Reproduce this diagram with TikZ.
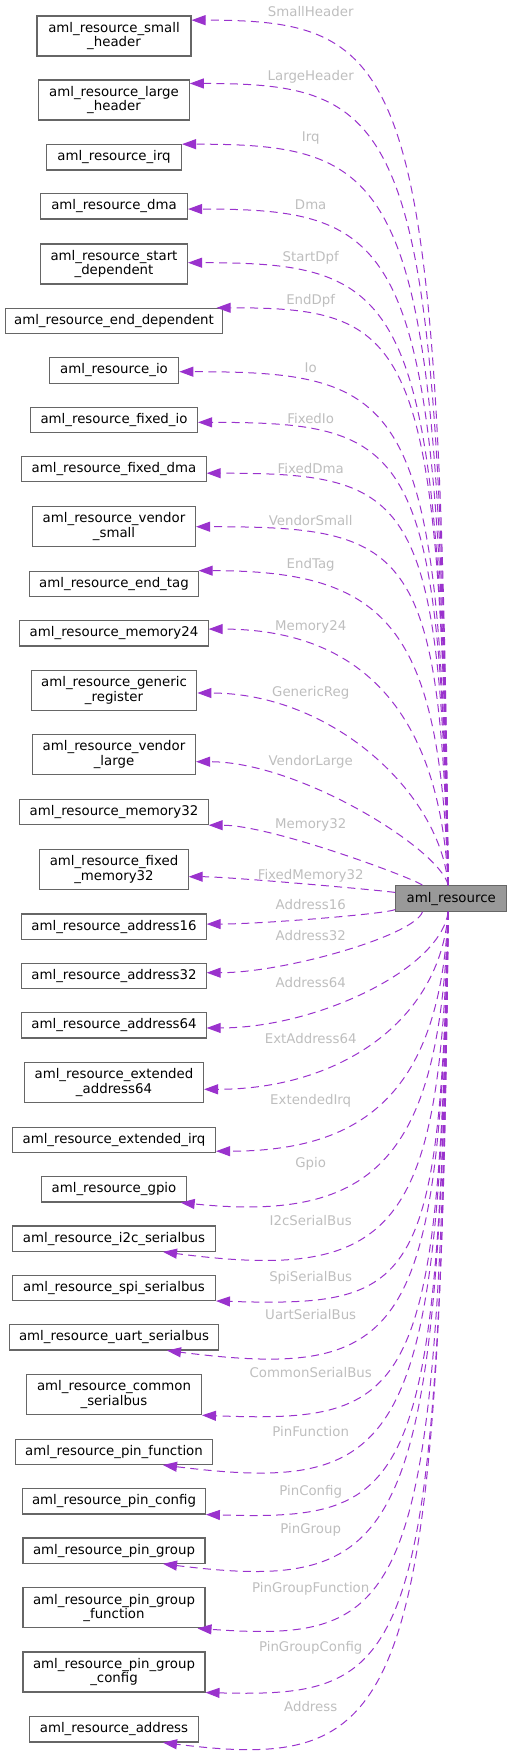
\documentclass[tikz,border=0pt]{standalone}
\usepackage{fontspec}
\setmainfont{DejaVu Sans}
\usetikzlibrary{arrows.meta,calc}
\definecolor{depcol}{HTML}{9A32CD}
\definecolor{labcol}{HTML}{BEBEBE}
\definecolor{bordcol}{HTML}{666666}
\definecolor{maincol}{HTML}{999999}
\tikzset{
  cls/.style={draw=bordcol, line width=0.8pt, fill=white, inner sep=0pt, align=center, font=\fontsize{10}{11}\selectfont},
  mainnode/.style={cls, fill=maincol},
  deplab/.style={text=labcol, font=\fontsize{10}{11}\selectfont, inner sep=0pt, anchor=base},
  dep/.style={draw=depcol, line width=0.75pt, dash pattern=on 6pt off 4pt, -{Triangle[length=10.5pt,width=7.5pt]}},
}
\newcommand\cls[5]{\node[cls, minimum width={#3*0.75pt}, minimum height={#4*0.75pt}] (#1) at (114,#2) {#5};}
\newcommand\dep[5]{\draw[dep] let \p1=(#1), \p2=(#2) in (\p1) .. controls ({\x1-6pt},{\y1+#3*(\y2-\y1)}) and ({\x2+#4*(\x1-\x2)},{\y2-#5*0.75pt}) .. (\p2);}
\begin{document}
\begin{tikzpicture}[x=0.75pt,y=-0.75pt]
\useasboundingbox (0,0) rectangle (512,1760);
% class nodes
\cls{n1}{36}{154}{40}{aml\_resource\_small\\\_header}
\cls{n2}{100}{150.6}{40}{aml\_resource\_large\\\_header}
\cls{n3}{157.35}{135}{25.3}{aml\_resource\_irq}
\cls{n4}{206.35}{147}{25.3}{aml\_resource\_dma}
\cls{n5}{264}{147}{40}{aml\_resource\_start\\\_dependent}
\cls{n6}{321}{217.7}{25.4}{aml\_resource\_end\_dependent}
\cls{n7}{370.5}{129.7}{25.3}{aml\_resource\_io}
\cls{n8}{419.85}{167}{25.3}{aml\_resource\_fixed\_io}
\cls{n9}{469.2}{184.3}{25.3}{aml\_resource\_fixed\_dma}
\cls{n10}{526.7}{163}{40}{aml\_resource\_vendor\\\_small}
\cls{n11}{583.85}{169.7}{25.3}{aml\_resource\_end\_tag}
\cls{n12}{633.35}{188.3}{25.3}{aml\_resource\_memory24}
\cls{n13}{690.7}{165.7}{40}{aml\_resource\_generic\\\_register}
\cls{n14}{754.7}{163}{40}{aml\_resource\_vendor\\\_large}
\cls{n15}{812}{188.3}{25.3}{aml\_resource\_memory32}
\cls{n16}{869.3}{148.3}{40}{aml\_resource\_fixed\\\_memory32}
\cls{n17}{926.65}{184.3}{25.3}{aml\_resource\_address16}
\cls{n18}{976}{184.3}{25.3}{aml\_resource\_address32}
\cls{n19}{1025.35}{184.3}{25.3}{aml\_resource\_address64}
\cls{n20}{1082.5}{179}{40}{aml\_resource\_extended\\\_address64}
\cls{n21}{1140}{203}{25.3}{aml\_resource\_extended\_irq}
\cls{n22}{1189.35}{145.7}{25.3}{aml\_resource\_gpio}
\cls{n23}{1238.65}{203}{25.3}{aml\_resource\_i2c\_serialbus}
\cls{n24}{1287.8}{203}{25.3}{aml\_resource\_spi\_serialbus}
\cls{n25}{1337.35}{209.7}{25.3}{aml\_resource\_uart\_serialbus}
\cls{n26}{1394.7}{175}{40}{aml\_resource\_common\\\_serialbus}
\cls{n27}{1451.85}{197.7}{25.3}{aml\_resource\_pin\_function}
\cls{n28}{1501.35}{182.7}{25.3}{aml\_resource\_pin\_config}
\cls{n29}{1550.65}{182}{25.3}{aml\_resource\_pin\_group}
\cls{n30}{1607.85}{182}{40}{aml\_resource\_pin\_group\\\_function}
\cls{n31}{1672}{182}{40}{aml\_resource\_pin\_group\\\_config}
\cls{n32}{1729.35}{168.7}{25.3}{aml\_resource\_address}
\node[mainnode, minimum width={111*0.75pt}, minimum height={25.6*0.75pt}] (main) at (451.2,898.5) {aml\_resource};
% labels
\node[deplab] (l1) at (310.7,16.7) {SmallHeader};
\node[deplab] (l2) at (310.7,80.7) {LargeHeader};
\node[deplab] (l3) at (310.7,141.7) {Irq};
\node[deplab] (l4) at (310.7,209.7) {Dma};
\node[deplab] (l5) at (310.7,261.7) {StartDpf};
\node[deplab] (l6) at (310.7,304) {EndDpf};
\node[deplab] (l7) at (310.7,372.7) {Io};
\node[deplab] (l8) at (310.7,423.3) {FixedIo};
\node[deplab] (l9) at (310.7,473.7) {FixedDma};
\node[deplab] (l10) at (310.7,525.3) {VendorSmall};
\node[deplab] (l11) at (310.7,568.7) {EndTag};
\node[deplab] (l12) at (310.7,630) {Memory24};
\node[deplab] (l13) at (310.7,696.7) {GenericReg};
\node[deplab] (l14) at (310.7,765.7) {VendorLarge};
\node[deplab] (l15) at (310.7,828.3) {Memory32};
\node[deplab] (l16) at (310.7,879.3) {FixedMemory32};
\node[deplab] (l17) at (310.7,909.7) {Address16};
\node[deplab] (l18) at (310.7,940.3) {Address32};
\node[deplab] (l19) at (310.7,987.3) {Address64};
\node[deplab] (l20) at (310.7,1043) {ExtAddress64};
\node[deplab] (l21) at (310.7,1104.3) {ExtendedIrq};
\node[deplab] (l22) at (310.7,1167.3) {Gpio};
\node[deplab] (l23) at (310.7,1225.7) {I2cSerialBus};
\node[deplab] (l24) at (310.7,1281.7) {SpiSerialBus};
\node[deplab] (l25) at (310.7,1319.3) {UartSerialBus};
\node[deplab] (l26) at (310.7,1377.7) {CommonSerialBus};
\node[deplab] (l27) at (310.7,1436.3) {PinFunction};
\node[deplab] (l28) at (310.7,1495.3) {PinConfig};
\node[deplab] (l29) at (310.7,1533.7) {PinGroup};
\node[deplab] (l30) at (310.7,1592.7) {PinGroupFunction};
\node[deplab] (l31) at (310.7,1651.3) {PinGroupConfig};
\node[deplab] (l32) at (310.7,1711.3) {Address};
% start points on main
\coordinate (st) at ($(main.north)+(-3,0)$);
\coordinate (sb) at ($(main.south)+(-3,0)$);
\coordinate (stw) at ($(main.north west)+(27.3,0)$);
\coordinate (sw1) at ($(main.north west)+(0,7.3)$);
\coordinate (sw2) at ($(main.south west)+(0,-2.3)$);
\coordinate (sbw) at ($(main.south west)+(27.3,0)$);
% tip points
\coordinate (t1) at ($(n1.north east)+(0,4.7)$);
\coordinate (t2) at ($(n2.north east)+(0,4)$);
\coordinate (t3) at (n3.north east);
\coordinate (t4) at ($(n4.east)+(0,2.7)$);
\coordinate (t5) at ($(n5.east)+(0,-1.3)$);
\coordinate (t6) at ($(n6.north east)+(-6.7,0)$);
\coordinate (t7) at ($(n7.east)+(0,1.2)$);
\coordinate (t8) at ($(n8.east)+(0,2.5)$);
\coordinate (t9) at ($(n9.east)+(0,4)$);
\coordinate (t10) at (n10.east);
\coordinate (t11) at ($(n11.north east)+(-0.7,0)$);
\coordinate (t12) at ($(n12.east)+(0,-4.3)$);
\coordinate (t13) at ($(n13.east)+(0,2.3)$);
\coordinate (t14) at ($(n14.east)+(0,7)$);
\coordinate (t15) at (n15.south east);
\coordinate (t16) at ($(n16.east)+(0,7.4)$);
\coordinate (t17) at ($(n17.east)+(0,-2.6)$);
\coordinate (t18) at ($(n18.east)+(0,-3.3)$);
\coordinate (t19) at ($(n19.east)+(0,2.6)$);
\coordinate (t20) at ($(n20.east)+(0,6.8)$);
\coordinate (t21) at ($(n21.south east)+(0,-2)$);
\coordinate (t22) at ($(n22.south east)+(-6.7,0)$);
\coordinate (t23) at ($(n23.south)+(49,0)$);
\coordinate (t24) at (n24.south east);
\coordinate (t25) at ($(n25.south)+(53,0)$);
\coordinate (t26) at (n26.south east);
\coordinate (t27) at ($(n27.south)+(49,0)$);
\coordinate (t28) at (n28.south east);
\coordinate (t29) at ($(n29.south)+(49,0)$);
\coordinate (t30) at ($(n30.south east)+(-8,0)$);
\coordinate (t31) at (n31.south east);
\coordinate (t32) at ($(n32.south)+(49,0)$);
% connectors
\dep{st}{t1}{.95}{.85}{0}
\dep{st}{t2}{.95}{.85}{0}
\dep{st}{t3}{.95}{.85}{0}
\dep{st}{t4}{.95}{.85}{0}
\dep{st}{t5}{.95}{.85}{0}
\dep{st}{t6}{.95}{.85}{0}
\dep{st}{t7}{.95}{.85}{0}
\dep{st}{t8}{.95}{.85}{0}
\dep{st}{t9}{.95}{.85}{0}
\dep{st}{t10}{.95}{.835}{0}
\dep{st}{t11}{.825}{.754}{0}
\dep{st}{t12}{.662}{.649}{0}
\dep{st}{t13}{.483}{.534}{0}
\dep{st}{t14}{.29}{.41}{0}
\dep{stw}{t15}{.11}{.295}{0}
\dep{sw1}{t16}{.1}{.2}{0}
\dep{sw2}{t17}{.296}{.287}{0}
\dep{sbw}{t18}{.39}{.362}{0}
\dep{sb}{t19}{.5}{.45}{0}
\dep{sb}{t20}{.622}{.548}{0}
\dep{sb}{t21}{.746}{.647}{0}
\dep{sb}{t22}{.848}{.728}{20}
\dep{sb}{t23}{.946}{.807}{30}
\dep{sb}{t24}{.97}{.85}{6}
\dep{sb}{t25}{.97}{.85}{30}
\dep{sb}{t26}{.97}{.85}{8}
\dep{sb}{t27}{.97}{.85}{30}
\dep{sb}{t28}{.97}{.85}{6}
\dep{sb}{t29}{.97}{.85}{30}
\dep{sb}{t30}{.97}{.85}{15}
\dep{sb}{t31}{.97}{.85}{5}
\dep{sb}{t32}{.97}{.85}{30}
\end{tikzpicture}
\end{document}
